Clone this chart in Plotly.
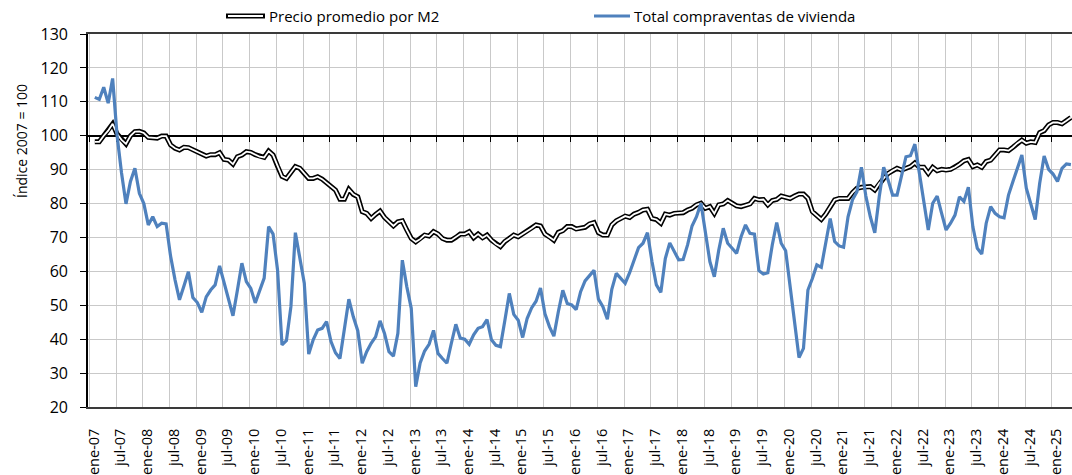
import plotly.graph_objects as go

# ---------------- data ----------------
month_names = ["ene", "feb", "mar", "abr", "may", "jun",
               "jul", "ago", "sep", "oct", "nov", "dic"]
months = [f"{m}-{y % 100:02d}" for y in range(2007, 2026) for m in month_names][:220]

precio_m2 = [
    98.2, 98.2, 100.0, 101.5, 103.5, 100.5, 98.8, 97.6, 100.0, 101.2,
    101.3, 100.8, 99.5, 99.3, 99.3, 99.9, 99.9, 97.3, 96.3, 95.8,
    96.6, 96.5, 95.8, 95.3, 94.6, 94.0, 94.4, 94.4, 95.0, 93.0,
    92.8, 91.6, 93.8, 94.3, 95.3, 95.1, 94.4, 93.8, 93.6, 95.5,
    94.3, 91.0, 88.0, 87.4, 89.2, 90.9, 90.4, 88.9, 87.4, 87.4,
    87.9, 87.2, 86.2, 85.0, 84.0, 81.3, 81.3, 84.2, 82.7, 82.0,
    77.6, 77.1, 75.6, 76.8, 77.8, 75.9, 74.6, 73.4, 74.6, 74.9,
    72.2, 69.7, 68.7, 69.5, 70.7, 70.4, 71.7, 71.0, 69.7, 69.2,
    69.2, 70.0, 71.0, 71.0, 71.7, 69.9, 71.0, 69.9, 70.7, 69.2,
    68.1, 67.3, 68.8, 69.7, 70.7, 70.2, 71.0, 72.0, 72.7, 73.7,
    73.4, 71.0, 70.2, 69.2, 71.5, 72.0, 73.2, 73.2, 72.5, 72.7,
    73.0, 74.0, 74.4, 71.4, 70.7, 70.7, 73.7, 74.9, 75.5, 76.3,
    75.9, 76.9, 77.4, 78.1, 78.3, 75.6, 75.3, 74.2, 76.9, 76.6,
    77.1, 77.1, 77.3, 78.1, 78.6, 79.6, 80.1, 78.6, 79.1, 77.1,
    79.6, 79.9, 80.9, 80.1, 79.3, 79.1, 79.6, 79.9, 81.5, 81.1,
    81.2, 79.6, 80.9, 81.2, 82.2, 81.8, 81.5, 82.2, 82.8, 82.8,
    81.5, 77.6, 76.3, 75.3, 76.9, 79.1, 81.1, 81.5, 81.5, 81.5,
    83.2, 84.5, 84.8, 84.8, 85.0, 84.0, 86.0, 87.4, 88.9, 89.7,
    90.4, 89.9, 90.4, 90.9, 92.0, 90.7, 90.7, 88.9, 90.7, 89.7,
    90.1, 89.9, 90.1, 90.7, 91.6, 92.6, 93.0, 90.9, 91.4, 90.7,
    92.4, 92.8, 94.3, 95.8, 95.8, 95.6, 96.6, 97.8, 98.7, 97.8,
    98.2, 98.0, 100.9, 101.5, 103.2, 103.9, 103.9, 103.5, 104.4, 105.4,
]

compraventas = [
    111.3, 110.7, 114.3, 109.6, 116.9, 100.0, 89.0, 79.9, 86.5, 90.4,
    83.0, 80.0, 73.7, 76.1, 73.2, 74.2, 74.0, 64.5, 57.5, 51.6,
    55.7, 59.9, 52.3, 50.8, 47.9, 52.5, 54.5, 56.0, 61.6, 56.5,
    51.5, 46.9, 54.5, 62.4, 57.0, 55.0, 50.7, 54.3, 58.0, 73.2,
    71.0, 60.4, 38.3, 39.6, 49.6, 71.4, 63.3, 56.5, 35.6, 39.8,
    42.7, 43.2, 45.2, 39.3, 36.0, 34.3, 43.0, 51.8, 46.6, 42.5,
    32.9, 36.3, 38.8, 40.7, 45.4, 41.7, 36.3, 35.0, 41.7, 63.3,
    55.5, 49.1, 26.0, 33.0, 36.5, 38.5, 42.6, 35.8, 34.3, 32.9,
    38.8, 44.4, 40.3, 40.0, 38.5, 41.3, 43.2, 43.7, 45.8, 39.8,
    38.2, 37.8, 45.5, 53.5, 47.3, 45.6, 40.5, 46.1, 49.2, 51.2,
    55.1, 47.5, 43.7, 40.9, 48.1, 54.4, 50.5, 50.1, 48.7, 54.0,
    57.2, 58.9, 60.3, 51.8, 49.6, 45.9, 54.7, 59.4, 57.9, 56.5,
    59.6, 63.5, 67.0, 68.3, 71.4, 63.0, 56.0, 53.8, 63.8, 68.4,
    65.8, 63.4, 63.5, 67.8, 73.4, 76.1, 80.1, 71.2, 62.9, 58.4,
    66.3, 72.7, 68.3, 66.8, 65.3, 70.2, 73.7, 71.2, 71.0, 60.2,
    59.2, 59.6, 67.8, 74.4, 68.3, 66.1, 55.5, 43.7, 34.6, 37.3,
    54.5, 57.9, 61.9, 61.2, 68.8, 75.6, 68.8, 67.5, 67.1, 76.1,
    81.1, 83.5, 90.7, 82.2, 76.1, 71.4, 82.0, 90.7, 86.9, 82.5,
    82.5, 88.4, 93.8, 94.1, 97.5, 89.0, 80.5, 72.2, 80.1, 82.2,
    77.1, 72.2, 74.2, 76.6, 82.0, 80.6, 84.8, 73.2, 66.8, 65.1,
    74.2, 79.1, 77.1, 76.1, 75.8, 82.5, 86.5, 90.7, 94.3, 84.5,
    79.5, 75.3, 86.0, 94.0, 90.1, 88.7, 86.5, 90.4, 91.7, 91.5,
]

tick_labels = [f"{m}-{y % 100:02d}" for y in range(2007, 2026) for m in ("ene", "jul")][:37]

serie_precio = "Precio promedio por M2"
serie_ventas = "Total compraventas de vivienda"
y_title = "Índice 2007 = 100"

# ---------------- layout helpers ----------------
x_idx = list(range(len(months)))
label_pos = [months.index(t) - 0.2 for t in tick_labels]
grid_pos = [months.index(t) - 1.24 for t in tick_labels]

FONT = "Open Sans"
BLUE = "#4F81BD"
GRID = "#C9C9C9"

fig = go.Figure()

# price: black outer line + white inner line (double-line look)
fig.add_trace(go.Scatter(x=x_idx, y=precio_m2, mode="lines", name=serie_precio,
                         line=dict(color="black", width=5), showlegend=False,
                         hoverinfo="skip"))
fig.add_trace(go.Scatter(x=x_idx, y=precio_m2, mode="lines", name=serie_precio,
                         line=dict(color="white", width=1.8), showlegend=False))
# sales (drawn on overlay axis so it sits on top)
fig.add_trace(go.Scatter(x=x_idx, y=compraventas, mode="lines", name=serie_ventas,
                         line=dict(color=BLUE, width=3.2), showlegend=False,
                         xaxis="x2"))

x_range = [-1.526, 219.25]

fig.update_layout(
    width=1072, height=475,
    margin=dict(l=88, r=0, t=34, b=68),
    paper_bgcolor="white", plot_bgcolor="white",
    font=dict(family=FONT, size=14.5, color="black"),
    showlegend=False,
    xaxis=dict(
        range=x_range, anchor="y",
        tickmode="array", tickvals=label_pos, ticktext=tick_labels,
        tickangle=-90, ticks="", ticklabelstandoff=14,
        tickfont=dict(family=FONT, size=14.5, color="black"),
        showgrid=False, zeroline=False,
        showline=True, linecolor="#3A3A3A", linewidth=1.6, mirror=True,
        minor=dict(tickmode="array", tickvals=grid_pos, showgrid=True,
                   gridcolor=GRID, gridwidth=1.4, ticks=""),
    ),
    xaxis2=dict(
        range=x_range, matches="x", overlaying="x", anchor="free",
        position=(100 - 20) / (130 - 20), side="bottom",
        tickmode="array", tickvals=grid_pos, showticklabels=False,
        ticks="outside", ticklen=5, tickwidth=1.4, tickcolor="black",
        showgrid=False, zeroline=False,
        showline=True, linecolor="black", linewidth=1.6,
        layer="below traces",
    ),
    yaxis=dict(
        range=[20, 130], tickmode="linear", tick0=20, dtick=10,
        ticks="outside", ticklen=6, tickwidth=1.4, tickcolor="black",
        ticklabelstandoff=9,
        tickfont=dict(family=FONT, size=16, color="black"),
        showgrid=True, gridcolor=GRID, gridwidth=1.4, zeroline=False,
        showline=True, linecolor="black", linewidth=1.6,
    ),
)

# custom legend (double line symbol for price)
def px_x(px):
    return (px - 88) / 984


def px_y(py):
    return (407 - py) / 373


ly = px_y(16)
fig.add_shape(type="line", xref="paper", yref="paper",
              x0=px_x(226), x1=px_x(265), y0=ly, y1=ly,
              line=dict(color="black", width=5))
fig.add_shape(type="line", xref="paper", yref="paper",
              x0=px_x(228), x1=px_x(263), y0=ly, y1=ly,
              line=dict(color="white", width=1.8))
fig.add_shape(type="line", xref="paper", yref="paper",
              x0=px_x(594), x1=px_x(630), y0=ly, y1=ly,
              line=dict(color=BLUE, width=3.2))
fig.add_annotation(text=serie_precio, xref="paper", yref="paper",
                   x=px_x(267), y=ly, xanchor="left", yanchor="middle",
                   showarrow=False, font=dict(family=FONT, size=15, color="black"))
fig.add_annotation(text=serie_ventas, xref="paper", yref="paper",
                   x=px_x(632), y=ly, xanchor="left", yanchor="middle",
                   showarrow=False, font=dict(family=FONT, size=15, color="black"))

# y axis title
fig.add_annotation(text=y_title, xref="paper", yref="paper",
                   x=px_x(21), y=px_y(141), xanchor="center", yanchor="middle",
                   textangle=-90, showarrow=False,
                   font=dict(family=FONT, size=14, color="black"))

fig.write_html(
    "out.html",
    config={"displayModeBar": False},
    post_script="document.body.style.margin='0';document.body.style.overflow='hidden';",
)
